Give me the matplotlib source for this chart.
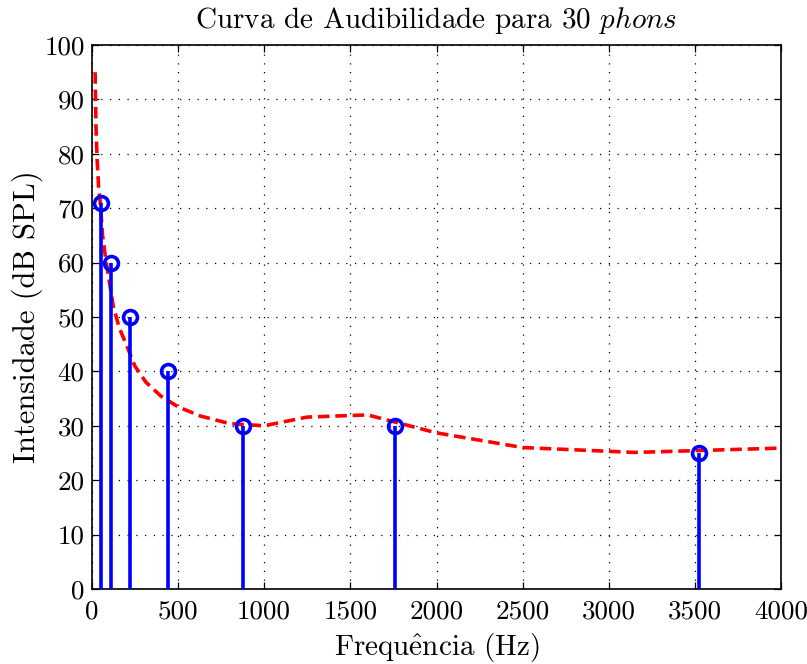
import matplotlib
matplotlib.use("Agg")
import matplotlib.pyplot as plt

# Musical A notes (Hz) and their intensity for 30 phons
note_freqs = [55, 110, 220, 440, 880, 1760, 3520]
note_levels = [71, 60, 50, 40, 30, 30, 25]

# Equal-loudness contour, 30 phons
contour_freqs = [20, 25, 31.5, 40, 50, 63, 80, 100, 125, 160, 200, 250, 315,
                 400, 500, 630, 800, 1000, 1250, 1600, 2000, 2500, 3150, 4000]
contour_levels = [95, 85, 79, 74, 71, 65, 61, 57, 52, 48, 45, 41, 38,
                  35.5, 33.5, 31.8, 30.4, 30.0, 31.6, 32.0, 28.7, 26.0, 25.1, 25.9]

x_ticks = [0, 500, 1000, 1500, 2000, 2500, 3000, 3500, 4000]
y_ticks = [0, 10, 20, 30, 40, 50, 60, 70, 80, 90, 100]

plt.rcParams["font.family"] = ["cmr10", "DejaVu Serif"]
plt.rcParams["mathtext.fontset"] = "cm"
plt.rcParams["axes.formatter.use_mathtext"] = True

fig = plt.figure(figsize=(8.07, 6.64), dpi=100)
ax = fig.add_axes([0.1136, 0.1130, 0.9682 - 0.1136, 0.9322 - 0.1130])

ax.plot(contour_freqs, contour_levels, color="red", linestyle=(0, (3.2, 1.6)),
        linewidth=2.6, zorder=2)

markerline, stemlines, baseline = ax.stem(note_freqs, note_levels, basefmt=" ")
plt.setp(stemlines, color="blue", linewidth=2.6)
plt.setp(markerline, marker="o", markersize=10, markerfacecolor="none",
         markeredgecolor="blue", markeredgewidth=2.6, linestyle="none")
stemlines.set_zorder(3)
markerline.set_zorder(4)

ax.set_xlim(0, 4000)
ax.set_ylim(0, 100)
ax.set_xticks(x_ticks)
ax.set_yticks(y_ticks)
ax.set_xticklabels([str(t) for t in x_ticks])
ax.set_yticklabels([str(t) for t in y_ticks])
ax.grid(True, color="black", linestyle=(0, (1, 6)), linewidth=0.9)
ax.tick_params(direction="in", top=True, right=True, length=5, width=0.9,
               labelsize=19.5)
ax.tick_params(axis="x", pad=8)
ax.tick_params(axis="y", pad=5)
for sp in ax.spines.values():
    sp.set_linewidth(1.2)

ax.set_xlabel(r"Frequ$\hat{\mathrm{e}}$ncia (Hz)", fontsize=21, labelpad=6)
ax.set_ylabel("Intensidade (dB SPL)", fontsize=22, labelpad=1)
ax.set_title(r"Curva de Audibilidade para 30 $\mathit{phons}$", fontsize=21, pad=12)

fig.savefig("out.png", dpi=100)
